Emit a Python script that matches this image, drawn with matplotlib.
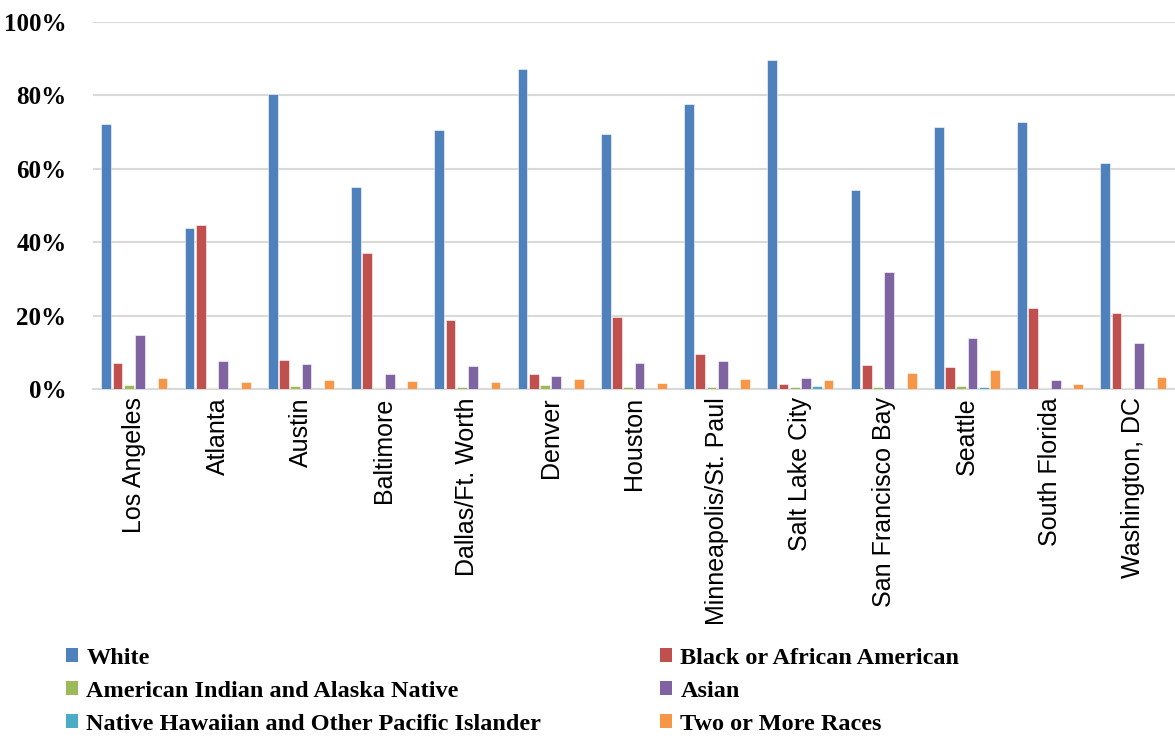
import matplotlib
matplotlib.use("Agg")
import matplotlib.pyplot as plt
import numpy as np
from matplotlib.patches import Patch

categories = ["Los Angeles", "Atlanta", "Austin", "Baltimore", "Dallas/Ft. Worth",
              "Denver", "Houston", "Minneapolis/St. Paul", "Salt Lake City",
              "San Francisco Bay", "Seattle", "South Florida", "Washington, DC"]
series_names = ["White", "Black or African American", "American Indian and Alaska Native",
                "Asian", "Native Hawaiian and Other Pacific Islander", "Two or More Races"]
white = [72.2, 43.8, 80.4, 55.1, 70.6, 87.1, 69.4, 77.8, 89.7, 54.1, 71.5, 72.7, 61.6]
black = [7.0, 44.7, 8.0, 37.0, 18.9, 4.0, 19.6, 9.6, 1.3, 6.4, 6.0, 22.0, 20.6]
aian = [1.0, 0.2, 0.7, 0.3, 0.5, 1.2, 0.5, 0.4, 0.6, 0.6, 0.8, 0.2, 0.3]
asian = [14.8, 7.7, 6.8, 4.1, 6.3, 3.4, 7.1, 7.5, 3.0, 31.9, 13.9, 2.3, 12.6]
nhpi = [0.2, 0.0, 0.1, 0.0, 0.1, 0.1, 0.1, 0.0, 0.9, 0.3, 0.6, 0.0, 0.1]
two = [2.9, 2.0, 2.4, 2.1, 2.0, 2.6, 1.6, 2.8, 2.5, 4.3, 5.1, 1.3, 3.3]
yticks = [0, 20, 40, 60, 80, 100]

colors = ["#4F81BD", "#C0504D", "#9BBB59", "#8064A2", "#4BACC6", "#F79646"]
data = [white, black, aian, asian, nhpi, two]

fig = plt.figure(figsize=(11.75, 7.38), dpi=100)
ax = fig.add_axes([0.079, 0.473, 0.921, 0.497])

x = np.arange(len(categories))
pitch = 0.135
width = 0.117
for i, (vals, c) in enumerate(zip(data, colors)):
    ax.bar(x + (i - 2.5) * pitch, vals, width=width, color=c, zorder=3,
           edgecolor="white", linewidth=0.4)

ax.set_xlim(-0.5, len(categories) - 0.5)
ax.set_ylim(0, 100)
ax.set_yticks(yticks)
ax.set_yticklabels([f"{v}%" for v in yticks], fontfamily="Liberation Serif",
                   fontweight="bold", fontsize=18)
ax.set_xticks(x)
ax.set_xticklabels(categories, rotation=90, fontfamily="Liberation Sans", fontsize=18)
ax.tick_params(axis="y", length=0, pad=19)
ax.tick_params(axis="x", length=0, pad=6)
ax.grid(axis="y", color="#d9d9d9", linewidth=1.5, zorder=0)
for s in ["top", "right", "left"]:
    ax.spines[s].set_visible(False)
ax.spines["bottom"].set_color("#d9d9d9")
ax.spines["bottom"].set_linewidth(1.5)

handles = [Patch(facecolor=c, label=n) for c, n in zip(colors, series_names)]
order = [0, 2, 4, 1, 3, 5]
fig.legend([handles[i] for i in order], [series_names[i] for i in order],
           ncol=2, loc="lower left", bbox_to_anchor=(0.0562, 0.004), frameon=False,
           prop={"family": "Liberation Serif", "weight": "bold", "size": 17.5},
           handlelength=0.5, handleheight=0.5, handletextpad=0.33,
           labelspacing=0.5, columnspacing=4.9, borderpad=0, borderaxespad=0)

fig.savefig("out.png", dpi=100)
